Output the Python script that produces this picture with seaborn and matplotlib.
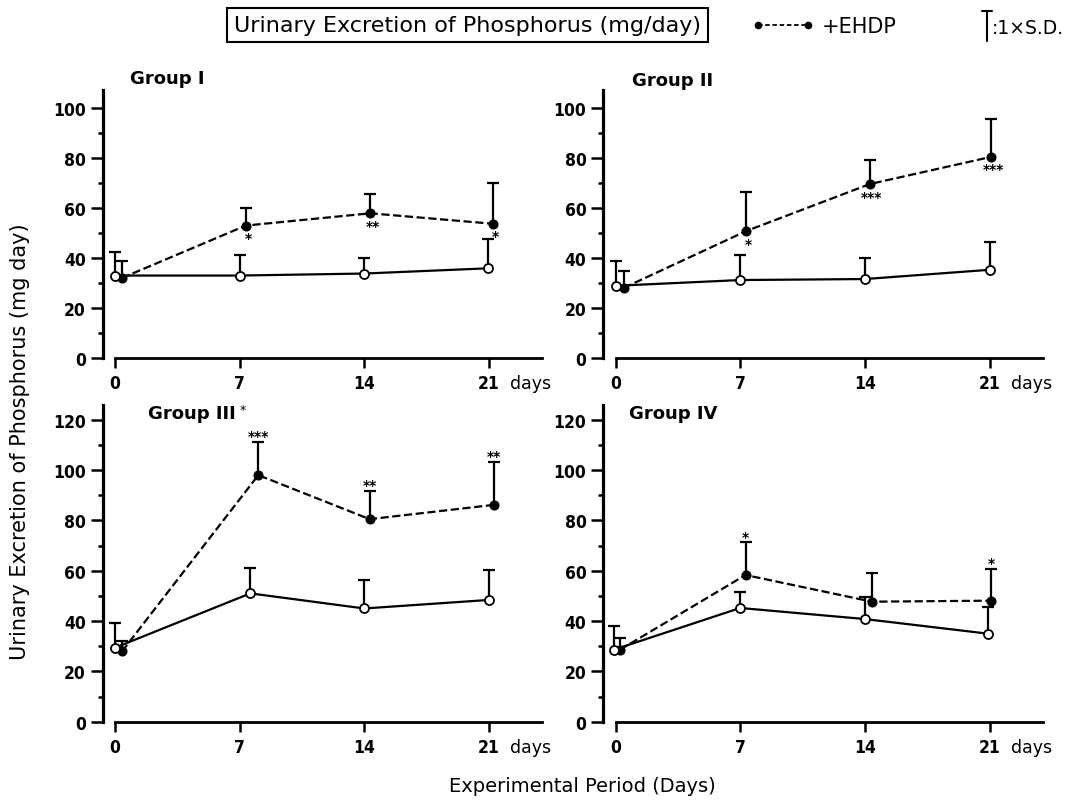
import numpy as np
import pandas as pd
import matplotlib
matplotlib.use("Agg")
import matplotlib.pyplot as plt
from matplotlib.lines import Line2D
from matplotlib.ticker import MultipleLocator
from matplotlib.font_manager import FontProperties
import seaborn as sns

sns.set_style("ticks")
plt.rcParams["font.family"] = ["DejaVu Sans"]
for k in ["text.color", "axes.edgecolor", "axes.labelcolor", "xtick.color", "ytick.color"]:
    plt.rcParams[k] = "black"

# ---------------- data ----------------
days = [0, 7, 14, 21]
day_labels = ["0", "7", "14", "21"]
groups = ["Group I", "Group II", "Group III", "Group IV"]

# plotted x positions (measurement day, slightly staggered as in the original)
ctrl_x = [[0, 7, 14, 20.95], [0, 7, 14, 21], [0, 7.6, 14, 21], [-0.1, 7, 14, 20.9]]
ehdp_x = [[0.38, 7.35, 14.34, 21.25], [0.47, 7.34, 14.28, 21.11],
          [0.4, 8.05, 14.3, 21.3], [0.25, 7.3, 14.4, 21.1]]

# control (open circles, solid line)
ctrl_mean = [[32.8, 32.8, 33.6, 35.7],
             [28.7, 31.0, 31.4, 35.1],
             [29.4, 51.0, 45.0, 48.4],
             [28.6, 45.2, 40.8, 35.0]]
ctrl_sd = [[9.5, 8.4, 6.1, 11.8],
           [9.9, 9.9, 8.5, 11.0],
           [9.8, 9.9, 11.4, 11.7],
           [9.5, 6.5, 8.9, 10.4]]

# +EHDP (filled circles, dashed line)
ehdp_mean = [[31.8, 52.8, 57.7, 53.5],
             [27.9, 50.6, 69.4, 80.3],
             [28.0, 98.0, 80.5, 86.2],
             [28.6, 58.3, 47.7, 48.1]]
ehdp_sd = [[6.8, 7.1, 7.9, 16.4],
           [6.7, 15.5, 9.5, 15.2],
           [3.9, 13.2, 11.2, 17.1],
           [4.5, 13.0, 11.3, 12.6]]

# significance marks and where they sit ("below" the mean or "above" the SD bar)
stars = [["", "*", "**", "*"],
         ["", "*", "***", "***"],
         ["", "***", "**", "**"],
         ["", "*", "", "*"]]
star_pos = ["below", "below", "above", "above"]

ymax = [107, 107, 126, 126]
ymajor_top = [100, 100, 120, 120]

# ---------------- figure ----------------
fig = plt.figure(figsize=(10.7, 8.03), dpi=100)
rects = [[0.0958, 0.5535, 0.4111, 0.3331],
         [0.5636, 0.5535, 0.4111, 0.3331],
         [0.0958, 0.1000, 0.4111, 0.3948],
         [0.5636, 0.1000, 0.4111, 0.3948]]
title_x = [0.85, 0.95, 1.85, 0.75]
title_y = [112, 111, 122.5, 122.5]


def tickfont():
    return FontProperties(family="DejaVu Sans", weight="bold", stretch="condensed", size=12.5)


for i in range(4):
    ax = fig.add_axes(rects[i])
    df_c = pd.DataFrame({"day": ctrl_x[i], "val": ctrl_mean[i]})
    df_e = pd.DataFrame({"day": ehdp_x[i], "val": ehdp_mean[i]})

    # SD bars (upper only)
    for xs, m, s in [(ctrl_x[i], ctrl_mean[i], ctrl_sd[i]), (ehdp_x[i], ehdp_mean[i], ehdp_sd[i])]:
        eb = ax.errorbar(xs, m, yerr=[np.zeros(len(s)), s], fmt="none", ecolor="black",
                         elinewidth=1.6, capsize=4.5, capthick=1.6, zorder=2)
        eb[1][0].set_visible(False)

    sns.lineplot(data=df_e, x="day", y="val", ax=ax, sort=False, errorbar=None,
                 color="black", linewidth=1.6, linestyle="--", dashes=(4, 2.6),
                 marker="o", markersize=6.5, markerfacecolor="black",
                 markeredgecolor="black", zorder=3)
    sns.lineplot(data=df_c, x="day", y="val", ax=ax, sort=False, errorbar=None,
                 color="black", linewidth=1.6, marker="o", markersize=6.5,
                 markerfacecolor="white", markeredgecolor="black",
                 markeredgewidth=1.3, zorder=4)

    # significance stars
    for j, st in enumerate(stars[i]):
        if not st:
            continue
        if star_pos[i] == "below":
            ax.annotate(st, xy=(ehdp_x[i][j], ehdp_mean[i][j]), xytext=(1.5, -9),
                        textcoords="offset points", ha="center", va="center",
                        fontsize=10, fontweight="bold")
        else:
            ax.annotate(st, xy=(ehdp_x[i][j], ehdp_mean[i][j] + ehdp_sd[i][j]), xytext=(0, 4),
                        textcoords="offset points", ha="center", va="center",
                        fontsize=10, fontweight="bold")

    ax.set_xlim(-0.7, 24.0)
    ax.set_ylim(0, ymax[i])
    ax.set_xlabel("")
    ax.set_ylabel("")
    for sp in ["top", "right"]:
        ax.spines[sp].set_visible(False)
    ax.spines["left"].set_linewidth(2.3)
    ax.spines["bottom"].set_linewidth(2.0)
    ax.spines["bottom"].set_bounds(0, 24.0)

    ax.set_yticks(np.arange(0, ymajor_top[i] + 1, 20))
    ax.yaxis.set_minor_locator(MultipleLocator(10))
    ax.tick_params(axis="y", which="major", direction="out", length=9, width=1.8, pad=3)
    ax.tick_params(axis="y", which="minor", direction="out", length=3.5, width=1.8)
    for lab in ax.get_yticklabels():
        lab.set_fontproperties(tickfont())

    ax.set_xticks(days + [23.35])
    ax.set_xticklabels(day_labels + ["days"])
    ax.tick_params(axis="x", direction="out", length=7, width=1.8, pad=5)
    xt = ax.get_xticklabels()
    for lab in xt[:-1]:
        lab.set_fontproperties(tickfont())
    xt[-1].set_fontsize(12.5)
    ax.xaxis.get_major_ticks()[-1].tick1line.set_visible(False)

    ax.text(title_x[i], title_y[i], groups[i], fontsize=13, fontweight="bold",
            ha="left", va="center", clip_on=False)
    if i == 2:
        ax.text(title_x[i] + 5.15, title_y[i] + 1.5, "*", fontsize=9, ha="left", va="center")

# ---------------- header & labels ----------------
fig.text(467.5 / 1070, 1 - 26 / 803, "Urinary Excretion of Phosphorus (mg/day)",
         ha="center", va="center", fontsize=16,
         bbox=dict(boxstyle="square,pad=0.3", fc="white", ec="black", lw=1.5))

h_ehdp = Line2D([], [], color="black", linestyle="--", dashes=(2.5, 1.5), linewidth=1.3,
                marker="o", markersize=4.5)
fig.legend(handles=[h_ehdp], labels=["+EHDP"], loc="center left",
           bbox_to_anchor=(752 / 1070, 1 - 27 / 803), frameon=False, fontsize=15,
           handlelength=3.0, handletextpad=0.35, borderpad=0, borderaxespad=0, numpoints=2)

fig.add_artist(Line2D([987 / 1070, 987 / 1070], [1 - 12 / 803, 1 - 42 / 803],
                      transform=fig.transFigure, color="black", lw=1.5))
fig.add_artist(Line2D([982 / 1070, 992 / 1070], [1 - 12 / 803, 1 - 12 / 803],
                      transform=fig.transFigure, color="black", lw=1.5))
fig.text(992 / 1070, 1 - 28 / 803, ":1×S.D.", ha="left", va="center", fontsize=13.5)

fig.text(582 / 1070, 1 - 787 / 803, "Experimental Period (Days)", ha="center", va="center",
         fontsize=14)
fig.text(20 / 1070, 1 - 442 / 803, "Urinary Excretion of Phosphorus (mg day)", ha="center",
         va="center", rotation=90, fontsize=15)

fig.savefig("out.png", dpi=100)
